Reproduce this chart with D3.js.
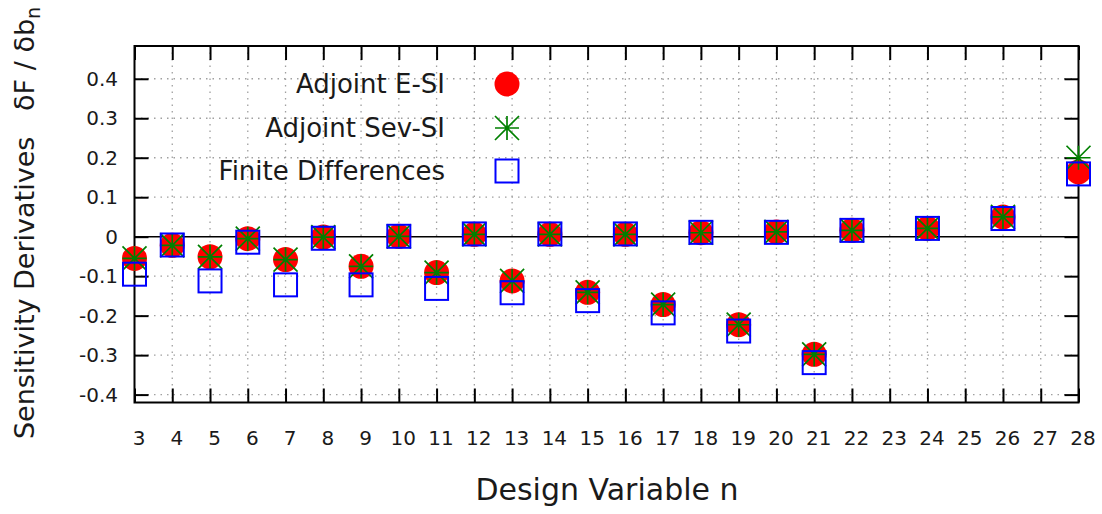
<!DOCTYPE html>
<html>
<head>
<meta charset="utf-8">
<script src="https://cdn.jsdelivr.net/npm/d3@7"></script>
<style>
  body { margin: 0; background: #fff; }
  svg { font-family: 'DejaVu Sans', sans-serif; font-variant-ligatures: none; }
</style>
</head>
<body>
<svg id="chart" width="1102" height="514"></svg>
<script>
// design variables present in the plot
const designVars = [3, 4, 5, 6, 7, 8, 9, 10, 11, 12, 13, 14, 15, 16, 17, 18, 19, 20, 21, 22, 24, 26, 28]
const adjointESI = [-0.055, -0.022, -0.051, -0.005, -0.058, -0.001, -0.075, 0.001, -0.091, 0.006, -0.112, 0.006,
    -0.141, 0.006, -0.172, 0.010, -0.223, 0.012, -0.298, 0.016, 0.021, 0.050, 0.164]
const adjointSevSI = [-0.055, -0.022, -0.051, -0.005, -0.058, -0.001, -0.075, 0.001, -0.091, 0.006, -0.112, 0.006,
    -0.141, 0.006, -0.172, 0.010, -0.223, 0.012, -0.298, 0.016, 0.021, 0.050, 0.200]
const finiteDiff = [-0.095, -0.021, -0.112, -0.014, -0.122, -0.004, -0.122, 0.001, -0.131, 0.007, -0.142, 0.007,
    -0.162, 0.007, -0.193, 0.011, -0.239, 0.011, -0.319, 0.016, 0.021, 0.046, 0.159]

const xTicks = [3, 4, 5, 6, 7, 8, 9, 10, 11, 12, 13, 14, 15, 16, 17, 18, 19, 20, 21, 22, 23, 24, 25, 26, 27, 28]
const yTicks = [-0.4, -0.3, -0.2, -0.1, 0, 0.1, 0.2, 0.3, 0.4]
const legendLabels = ['Adjoint E-SI', 'Adjoint Sev-SI', 'Finite Differences']

const box = { left: 134.5, right: 1078.5, top: 46, bottom: 402.5 }
const tickLen = 14

const x = d3.scaleLinear().domain([3, 28]).range([box.left, box.right])
const y = d3.scaleLinear().domain([-0.42, 0.483]).range([box.bottom, box.top])

const svg = d3.select('#chart')

// dotted grid
const grid = svg.append('g')
    .attr('stroke', '#a0a0a0')
    .attr('stroke-width', 1.3)
    .attr('stroke-dasharray', '1.5,5')
grid.selectAll('.vg')
    .data(xTicks.slice(1, -1))
    .enter().append('line')
    .attr('x1', d => x(d)).attr('x2', d => x(d))
    .attr('y1', box.top).attr('y2', box.bottom)
grid.selectAll('.hg')
    .data(yTicks.filter(d => d !== 0))
    .enter().append('line')
    .attr('x1', box.left).attr('x2', box.right)
    .attr('y1', d => y(d)).attr('y2', d => y(d))

// zero axis
svg.append('line')
    .attr('x1', box.left).attr('x2', box.right)
    .attr('y1', y(0)).attr('y2', y(0))
    .attr('stroke', '#000').attr('stroke-width', 1.6)

const fmtY = d => d === 0 ? '0' : d.toFixed(1)

// axes with inward ticks on all four sides
const bottomAxis = svg.append('g')
    .attr('transform', `translate(0,${box.bottom})`)
    .call(d3.axisBottom(x).tickValues(xTicks).tickSize(-tickLen).tickPadding(28))
bottomAxis.selectAll('text').attr('dx', 4)

svg.append('g')
    .attr('transform', `translate(0,${box.top})`)
    .call(d3.axisTop(x).tickValues(xTicks).tickSize(-tickLen).tickFormat(''))

svg.append('g')
    .attr('transform', `translate(${box.left},0)`)
    .call(d3.axisLeft(y).tickValues(yTicks).tickSize(-tickLen).tickPadding(16.5).tickFormat(fmtY))

svg.append('g')
    .attr('transform', `translate(${box.right},0)`)
    .call(d3.axisRight(y).tickValues(yTicks).tickSize(-tickLen).tickFormat(''))

svg.selectAll('.domain').remove()
svg.selectAll('.tick line').attr('stroke', '#000').attr('stroke-width', 2)
svg.selectAll('.tick text')
    .attr('fill', '#1a1a1a')
    .style('font-size', '20px')
    .style('font-family', "'DejaVu Sans', sans-serif")

svg.append('rect')
    .attr('x', box.left).attr('y', box.top)
    .attr('width', box.right - box.left).attr('height', box.bottom - box.top)
    .attr('fill', 'none').attr('stroke', '#000').attr('stroke-width', 2)

// marker helpers
const starPath = s => `M${-s},0H${s}M0,${-s}V${s}M${-s},${-s}L${s},${s}M${-s},${s}L${s},${-s}`

function drawCircle(g, cx, cy) {
    g.append('circle').attr('cx', cx).attr('cy', cy).attr('r', 12.5).attr('fill', '#ff0000')
}
function drawStar(g, cx, cy) {
    g.append('path').attr('d', starPath(12)).attr('transform', `translate(${cx},${cy})`)
        .attr('stroke', '#008000').attr('stroke-width', 1.7).attr('fill', 'none')
}
function drawSquare(g, cx, cy) {
    g.append('rect').attr('x', cx - 11.5).attr('y', cy - 11.5).attr('width', 23).attr('height', 23)
        .attr('fill', 'none').attr('stroke', '#0000ff').attr('stroke-width', 2)
}

const marks = svg.append('g')
designVars.forEach((n, i) => drawCircle(marks, x(n), y(adjointESI[i])))
designVars.forEach((n, i) => drawStar(marks, x(n), y(adjointSevSI[i])))
designVars.forEach((n, i) => drawSquare(marks, x(n), y(finiteDiff[i])))

// legend
const legendY = [84, 128, 171]
const legend = svg.append('g')
legend.selectAll('text')
    .data(legendLabels)
    .enter().append('text')
    .attr('x', 445)
    .attr('y', (d, i) => legendY[i])
    .attr('dy', '0.36em')
    .attr('text-anchor', 'end')
    .attr('fill', '#1a1a1a')
    .style('font-size', '26px')
    .text(d => d)
drawCircle(legend, 507, legendY[0])
drawStar(legend, 507, legendY[1])
drawSquare(legend, 507, legendY[2])

// axis titles
svg.append('text')
    .attr('x', 607).attr('y', 500)
    .attr('text-anchor', 'middle')
    .attr('fill', '#1a1a1a')
    .style('font-size', '30px')
    .text('Design Variable n')

const yl = svg.append('text')
    .attr('transform', 'translate(34,223) rotate(-90)')
    .attr('text-anchor', 'middle')
    .attr('fill', '#1a1a1a')
    .style('font-size', '27px')
    .style('white-space', 'pre')
yl.append('tspan').text('Sensitivity Derivatives   δF / δb')
yl.append('tspan').attr('dy', 6).style('font-size', '19px').text('n')
</script>
</body>
</html>
